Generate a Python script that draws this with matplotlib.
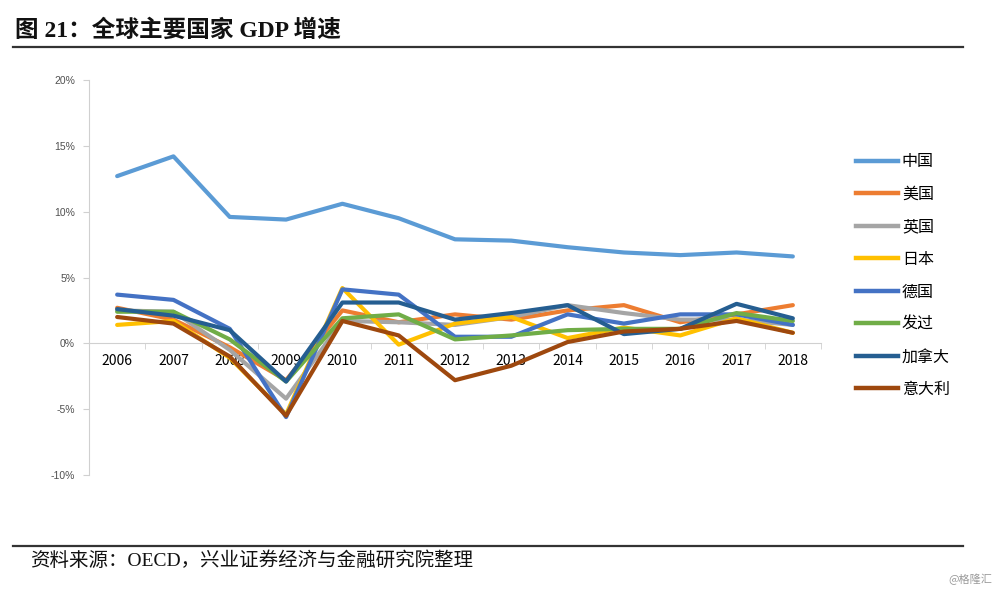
import matplotlib
matplotlib.use("Agg")
import matplotlib.pyplot as plt
from matplotlib.lines import Line2D
import numpy as np

years = ["2006", "2007", "2008", "2009", "2010", "2011", "2012",
         "2013", "2014", "2015", "2016", "2017", "2018"]
series_names = ["中国", "美国", "英国", "日本", "德国", "发过", "加拿大", "意大利"]
china = [12.7, 14.2, 9.6, 9.4, 10.6, 9.5, 7.9, 7.8, 7.3, 6.9, 6.7, 6.9, 6.6]
usa = [2.7, 1.8, -0.3, -2.8, 2.5, 1.6, 2.2, 1.8, 2.5, 2.9, 1.6, 2.2, 2.9]
uk = [2.5, 2.4, -0.5, -4.2, 1.7, 1.6, 1.4, 2.0, 2.9, 2.3, 1.8, 1.8, 1.4]
japan = [1.4, 1.7, -1.1, -5.4, 4.2, -0.1, 1.5, 2.0, 0.4, 1.2, 0.6, 1.9, 0.8]
germany = [3.7, 3.3, 1.1, -5.6, 4.1, 3.7, 0.5, 0.5, 2.2, 1.5, 2.2, 2.2, 1.4]
france = [2.4, 2.4, 0.3, -2.9, 1.9, 2.2, 0.3, 0.6, 1.0, 1.1, 1.1, 2.3, 1.7]
canada = [2.6, 2.1, 1.0, -2.9, 3.1, 3.1, 1.8, 2.3, 2.9, 0.7, 1.1, 3.0, 1.9]
italy = [2.0, 1.5, -1.0, -5.5, 1.7, 0.6, -2.8, -1.7, 0.1, 0.9, 1.1, 1.7, 0.8]
yticks = [-10, -5, 0, 5, 10, 15, 20]
ytick_labels = ["-10%", "-5%", "0%", "5%", "10%", "15%", "20%"]

colors = ["#5B9BD5", "#ED7D31", "#A5A5A5", "#FFC000", "#4472C4",
          "#70AD47", "#255E91", "#9E480E"]
data = [china, usa, uk, japan, germany, france, canada, italy]

cjk_serif = ["Liberation Serif", "Noto Sans CJK SC"]
plt.rcParams['font.family'] = ["Noto Sans CJK SC", "DejaVu Sans"]

fig = plt.figure(figsize=(10, 5.93), dpi=100)
ax = fig.add_axes([0.089, 1 - 475 / 593, 0.821 - 0.089, (475 - 80) / 593])

x = np.arange(len(years))
for name, vals, c in zip(series_names, data, colors):
    ax.plot(x, vals, color=c, lw=3, label=name, solid_capstyle='round',
            solid_joinstyle='round')

ax.set_xlim(-0.5, len(years) - 0.5)
ax.set_ylim(-10, 20)
ax.set_yticks(yticks)
ax.set_yticklabels(ytick_labels, fontsize=7.5, color="#505050", family=["Liberation Sans"])
ax.set_xticks(x)
ax.set_xticklabels(years, fontsize=9.5, family=["Liberation Serif"], color="#222222")
ax.set_xticks(np.arange(-0.5, len(years), 1.0), minor=True)
ax.tick_params(axis='x', which='major', length=0, pad=8)
ax.tick_params(axis='x', which='minor', length=4, direction='out', color="#D0D0D0")
ax.tick_params(axis='y', length=4, direction='out', color="#D0D0D0", pad=6)

for s in ['top', 'right']:
    ax.spines[s].set_visible(False)
ax.spines['bottom'].set_position(('data', 0))
ax.spines['bottom'].set_color("#D0D0D0")
ax.spines['left'].set_color("#D0D0D0")
ax.spines['bottom'].set_zorder(0)

handles = [Line2D([0], [0], color=c, lw=3.2) for c in colors]
fig.legend(handles, series_names, loc='upper left', bbox_to_anchor=(0.842, 1 - 139 / 593),
           frameon=False, handlelength=2.6, handletextpad=0.25,
           labelspacing=0.97, prop={'family': ["Noto Sans CJK SC"], 'size': 11.5})

# title and rules
fig.text(0.015, 1 - 31 / 593, "图 21：全球主要国家 GDP 增速", fontsize=17,
         fontweight='bold', family=cjk_serif, va='center', ha='left', color="#111111")
fig.add_artist(Line2D([0.013, 0.963], [1 - 47 / 593, 1 - 47 / 593], color="#333333", lw=1.6))
fig.add_artist(Line2D([0.013, 0.963], [1 - 546 / 593, 1 - 546 / 593], color="#333333", lw=1.6))
fig.text(0.03, 1 - 561 / 593, "资料来源：OECD，兴业证券经济与金融研究院整理", fontsize=14,
         family=cjk_serif, va='center', ha='left', color="#111111")
fig.text(0.992, 1 - 579 / 593, "@格隆汇", fontsize=8, family=["Noto Sans CJK SC"],
         va='center', ha='right', color="#9A9A9A")

fig.savefig("out.png", dpi=100)
